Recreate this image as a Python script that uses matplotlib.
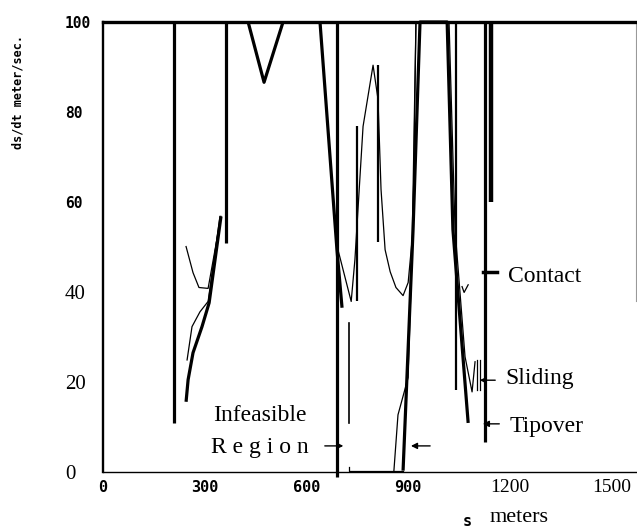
import matplotlib
matplotlib.use("Agg")
import matplotlib.pyplot as plt

# --- data: path distance s (m) vs. ds/dt (m/s) ---
# thick limit curves
wall_a_s = [209, 209]
wall_a_v = [100, 11]
wall_b_s = [363, 363]
wall_b_v = [100, 51]
dip_s = [428, 475, 531]
dip_v = [100, 86.6, 100]
drop_s = [640, 690, 705]
drop_v = [100, 49.4, 36.5]
infeas_s = [690, 690]
infeas_v = [100, -1]
hump_s = [885, 914.5, 935, 1015, 1032, 1077]
hump_v = [0.3, 53.9, 100, 100, 53.9, 10.9]
wall_q_s = [1127, 1127]
wall_q_v = [100, 6.7]
wall_r_s = [1145, 1145]
wall_r_v = [100, 60]
rise_s = [245, 251, 265.5, 292, 313, 348]
rise_v = [15.6, 20.5, 26.5, 32.3, 37.6, 56.8]

# medium lines
wall_g_s = [749, 749]
wall_g_v = [77, 38]
wall_j_s = [811, 811]
wall_j_v = [90.4, 51.2]
wall_n_s = [1041, 1041]
wall_n_v = [100, 18.3]
wall_h_s = [726, 726]
wall_h_v = [33.2, 10.9]

# thin curves
peak_s = [693, 732, 743, 767, 796.5, 811, 820, 832, 847, 864, 885, 900, 914.5, 923]
peak_v = [49.4, 37.9, 47.2, 76.8, 90.4, 82.9, 62.8, 49.4, 44.5, 41, 39.2, 42.1, 53.9, 100]
climb_s = [858, 870, 900, 911.5, 923]
climb_v = [0.3, 12.7, 21, 49.4, 100]
floor_s = [726, 726, 858, 885]
floor_v = [1.2, 0.3, 0.3, 0.3]
fall_s = [1020.6, 1038.3, 1067.8, 1088.5, 1097.3]
fall_v = [100, 53.9, 25.6, 17.8, 24.5]
contact_s = [1059, 1065, 1077]
contact_v = [41.2, 39.9, 41.6]
slide1_s = [1103, 1103]
slide2_s = [1112, 1112]
slide_v = [25, 18.3]
upper_s = [245, 265.5, 283, 310, 348]
upper_v = [50.1, 44.3, 41, 40.8, 56.8]
lower_s = [248, 262.5, 286, 310, 345]
lower_v = [24.9, 32.3, 35.6, 37.9, 56.8]

xticks = [0, 300, 600, 900, 1200, 1500]
yticks = [0, 20, 40, 60, 80, 100]

mono = dict(family="DejaVu Sans Mono", weight="bold")
serif = dict(family="Liberation Serif")

fig = plt.figure(figsize=(6.37, 5.31), dpi=100)
ax = fig.add_axes([103/637, 59/531, 533/637, 450/531])

thick = [(wall_a_s, wall_a_v), (wall_b_s, wall_b_v), (dip_s, dip_v),
         (drop_s, drop_v), (infeas_s, infeas_v), (hump_s, hump_v),
         (wall_q_s, wall_q_v), (rise_s, rise_v)]
for s, v in thick:
    ax.plot(s, v, color="black", lw=2.3, clip_on=False, solid_capstyle="butt")
ax.plot(wall_r_s, wall_r_v, color="black", lw=3.2, solid_capstyle="butt")

for s, v in [(wall_g_s, wall_g_v), (wall_j_s, wall_j_v), (wall_n_s, wall_n_v)]:
    ax.plot(s, v, color="black", lw=1.6, solid_capstyle="butt")
ax.plot(wall_h_s, wall_h_v, color="black", lw=1.2)

thin = [(peak_s, peak_v), (climb_s, climb_v), (floor_s, floor_v),
        (fall_s, fall_v), (contact_s, contact_v), (upper_s, upper_v),
        (lower_s, lower_v), (slide1_s, slide_v), (slide2_s, slide_v)]
for s, v in thin:
    ax.plot(s, v, color="black", lw=0.9)

ax.set_xlim(0, 1572)
ax.set_ylim(0, 100)

ax.spines["top"].set_linewidth(2.4)
ax.spines["left"].set_linewidth(1.7)
ax.spines["bottom"].set_linewidth(1.0)
ax.spines["right"].set_linewidth(0.8)
ax.spines["right"].set_color("#999999")
ax.spines["right"].set_bounds(38, 100)

ax.set_xticks(xticks)
ax.set_xticklabels([str(t) for t in xticks])
ax.set_yticks(yticks)
ax.set_yticklabels([str(t) for t in yticks])
ax.tick_params(axis="x", length=0, pad=11.5)
ax.tick_params(axis="y", length=0, pad=27.4)
for i, lab in enumerate(ax.get_xticklabels()):
    lab.set_va("center")
    if i < 4:
        lab.set_fontproperties(mono)
        lab.set_fontsize(11)
    else:
        lab.set_fontproperties(serif)
        lab.set_fontsize(14)
for i, lab in enumerate(ax.get_yticklabels()):
    lab.set_ha("left")
    if i >= 3:
        lab.set_fontproperties(mono)
        lab.set_fontsize(10.5)
    else:
        lab.set_fontproperties(serif)
        lab.set_fontsize(15)

# annotations
fs = 17
ax.text(324, 11.3, "Infeasible", fontsize=fs, **serif)
ax.text(318, 4.2, "R e g i o n", fontsize=fs, **serif)
ax.text(1194, 42.2, "Contact", fontsize=fs, **serif)
ax.text(1188, 19.6, "Sliding", fontsize=fs, **serif)
ax.text(1200, 8.9, "Tipover", fontsize=fs, **serif)

arrow = dict(arrowstyle="-|>", color="black", lw=1.0, mutation_scale=9)
ax.annotate("", xy=(717, 5.8), xytext=(646, 5.8), arrowprops=arrow)
ax.annotate("", xy=(900, 5.8), xytext=(973, 5.8), arrowprops=arrow)
ax.annotate("", xy=(1103, 20.4), xytext=(1165, 20.4), arrowprops=arrow)
ax.annotate("", xy=(1112, 10.7), xytext=(1177, 10.7), arrowprops=arrow)
ax.plot([1121, 1162], [44.5, 44.5], color="black", lw=2.5)

fig.text(18/637, 1 - 92/531, "ds/dt meter/sec.", rotation=90,
         ha="center", va="center", fontsize=8.5, **mono)
fig.text(467/637, 1 - 521/531, "s", ha="center", va="center", fontsize=11, **mono)
fig.text(490/637, 1 - 518/531, "meters", ha="left", va="center", fontsize=16, **serif)

fig.savefig("out.png", dpi=100)
